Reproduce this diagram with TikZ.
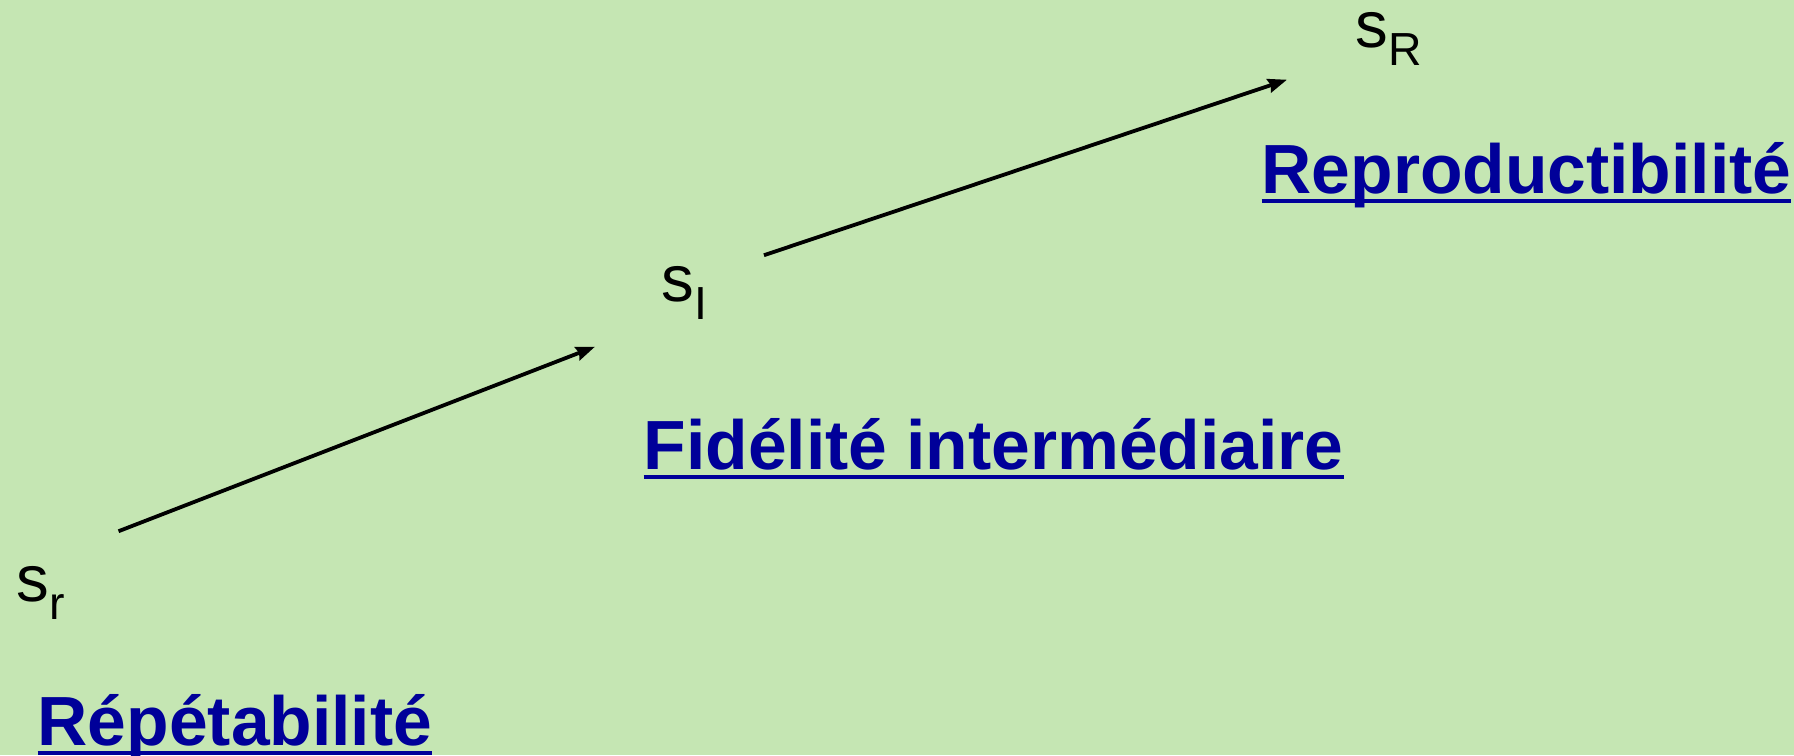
\documentclass[tikz,border=0pt]{standalone}
\usepackage{fontspec}
\setmainfont{Liberation Sans}
\usetikzlibrary{arrows.meta}
\definecolor{bggreen}{RGB}{197,230,179}
\definecolor{titleblue}{RGB}{0,0,153}
\newsavebox{\ulbox}
\newcommand{\ulbar}[1]{\sbox{\ulbox}{#1}\rlap{\rule[-0.10cm]{\wd\ulbox}{0.045cm}}\usebox{\ulbox}}
\newcommand{\sdev}[1]{s\raisebox{-0.18cm}{\fontsize{13.2pt}{14pt}\selectfont #1}}
\tikzset{
  sym/.style={inner sep=0pt, anchor=base west, font=\fontsize{18.6pt}{20pt}\selectfont},
  title/.style={inner sep=0pt, anchor=base west, text=titleblue, font=\fontsize{19.8pt}{22pt}\selectfont\bfseries},
  arr/.style={-{Stealth[length=0.19cm,width=0.14cm,inset=0.02cm]}, line width=0.038cm}
}
\begin{document}
\begin{tikzpicture}
	\fill[bggreen] (0,0) rectangle (17.94,-7.55);
	\useasboundingbox (0,0) rectangle (17.94,-7.55);

	\node[sym] (sr) at (0.16,-6.01) {\sdev{r}};
	\node[sym] (sI) at (6.61,-3.01) {\sdev{I}};
	\node[sym] (sR) at (13.55,-0.47) {\sdev{R}};

	\node[title] (rep) at (0.37,-7.45) {\ulbar{Répétabilité}};
	\node[title] (fid) at (6.43,-4.69) {\ulbar{Fidélité intermédiaire}};
	\node[title] (repro) at (12.61,-1.93) {\ulbar{Reproductibilité}};

	\draw[arr] ([shift={(0.53,0.34)}]sr.north east) -- ([shift={(-0.66,-0.27)}]sI.south west);
	\draw[arr] ([shift={(0.56,0.10)}]sI.north east) -- ([shift={(-0.68,-0.14)}]sR.south west);

\end{tikzpicture}
\end{document}
